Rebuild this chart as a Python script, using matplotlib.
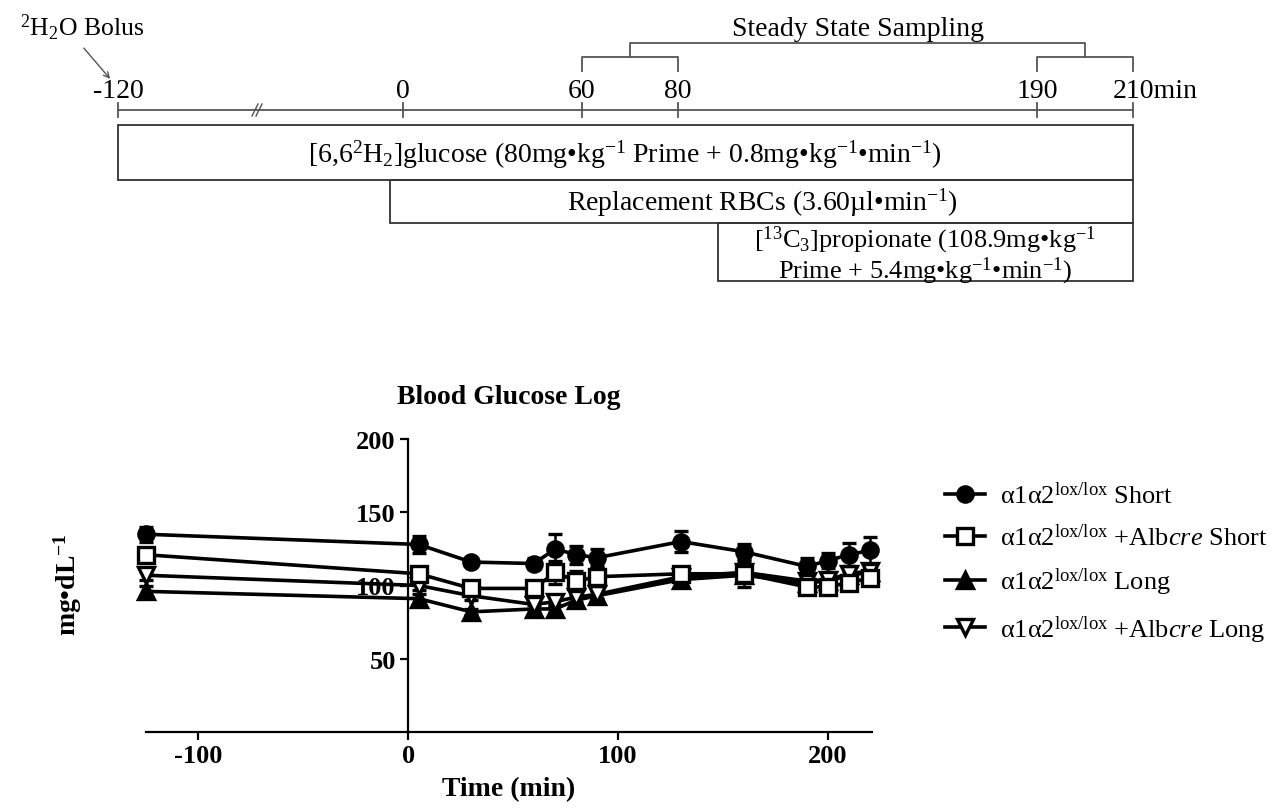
import numpy as np
import matplotlib.pyplot as plt
from matplotlib.lines import Line2D
from matplotlib.patches import Rectangle

plt.rcParams['font.family'] = ['Liberation Serif', 'DejaVu Serif']
plt.rcParams['mathtext.fontset'] = 'custom'
plt.rcParams['mathtext.rm'] = 'Liberation Serif'
plt.rcParams['mathtext.it'] = 'Liberation Serif:italic'
plt.rcParams['mathtext.bf'] = 'Liberation Serif:bold'
plt.rcParams['mathtext.default'] = 'regular'
plt.rcParams['axes.unicode_minus'] = False

# blood glucose (mg/dL), mean and SEM per group
time = [-125, 5, 30, 60, 70, 80, 90, 130, 160, 190, 200, 210, 220]
short_ctrl = [135, 128, 116, 115, 125, 121, 119, 130, 123, 113, 117, 121, 124]
short_ctrl_sem = [5, 6, 1, 4, 10, 6, 6, 7, 5, 6, 5, 8, 9]
short_alb = [121, 108, 98, 98, 109, 103, 106, 108, 108, 99, 99, 102, 105]
short_alb_sem = [3, 3, 2, 2, 8, 7, 6, 3, 9, 3, 3, 4, 4]
long_ctrl = [96, 91, 82, 84, 84, 90, 93, 104, 107, 102, 103, 107, 109]
long_ctrl_sem = [4, 3, 2, 3, 3, 3, 3, 3, 3, 3, 3, 3, 3]
long_alb = [107, 100, 93, 87, 89, 92, 94, 106, 109, 103, 104, 108, 110]
long_alb_sem = [3, 3, 3, 3, 3, 3, 3, 3, 3, 3, 3, 3, 3]

lox = r'$\alpha$1$\alpha$2$^{\mathrm{lox/lox}}$'
labels = [lox + ' Short', lox + r' +Alb$\mathit{cre}$ Short',
          lox + ' Long', lox + r' +Alb$\mathit{cre}$ Long']

# protocol timeline (positions in pixels, schematic spacing)
tl_labels = ['-120', '0', '60', '80', '190', '210min']
tl_px = [118, 403, 582, 678, 1037, 1133]

W, H = 1274, 812
fig = plt.figure(figsize=(W / 100, H / 100), dpi=100)

# ---- protocol schematic ----
top = fig.add_axes([0, 0, 1, 1])
top.set_xlim(0, W)
top.set_ylim(H, 0)
top.axis('off')
gc = '#555555'
fs = 20

top.plot([tl_px[0], tl_px[-1]], [111, 111], color=gc, lw=1.3)
for px, lab in zip(tl_px, tl_labels):
    top.plot([px, px], [104, 118], color=gc, lw=1.3)
    if lab.endswith('min'):
        top.text(px - 20, 98, lab, ha='left', va='baseline', fontsize=fs)
    else:
        top.text(px, 98, lab, ha='center', va='baseline', fontsize=fs)
# axis break
for dx in (-3, 1):
    top.plot([255 + dx, 261 + dx], [117, 105], color=gc, lw=1)

top.text(20, 36, r'$^{2}$H$_{2}$O Bolus', ha='left', va='baseline', fontsize=18.5)
top.annotate('', xy=(112, 82), xytext=(82, 47),
             arrowprops=dict(arrowstyle='->', color=gc, lw=1))

# sampling brackets
for a, b in ((tl_px[2], tl_px[3]), (tl_px[4], tl_px[5])):
    top.plot([a, a, b, b], [72, 58, 58, 72], color=gc, lw=1.3)
ml = (tl_px[2] + tl_px[3]) / 2
mr = (tl_px[4] + tl_px[5]) / 2
top.plot([ml, ml, mr, mr], [58, 44, 44, 58], color=gc, lw=1.3)
top.text(858, 36, 'Steady State Sampling', ha='center', va='baseline', fontsize=fs)

# infusion boxes
boxes = [(118, 126, 181), (390, 181, 224), (718, 224, 282)]
for x0, y0, y1 in boxes:
    top.add_patch(Rectangle((x0, y0), 1133 - x0, y1 - y0, fill=False,
                            edgecolor='#333333', lw=1.3))
top.text(625, 155, r'[6,6$^{2}$H$_{2}$]glucose (80mg•kg$^{-1}$ Prime + 0.8mg•kg$^{-1}$•min$^{-1}$)',
         ha='center', va='center', fontsize=fs)
top.text(762, 203, r'Replacement RBCs (3.60µl•min$^{-1}$)',
         ha='center', va='center', fontsize=fs)
top.text(925, 256, '[$^{13}$C$_{3}$]propionate (108.9mg•kg$^{-1}$\n'
         'Prime + 5.4mg•kg$^{-1}$•min$^{-1}$)',
         ha='center', va='center', multialignment='center', fontsize=19,
         linespacing=1.0)

# ---- blood glucose chart ----
ax = fig.add_axes([146 / W, (H - 733) / H, (872 - 146) / W, (733 - 440) / H])
ax.set_xlim(-125, 221)
ax.set_ylim(0, 200)

series = [
    (long_ctrl, long_ctrl_sem, '^', 'black', 2),
    (long_alb, long_alb_sem, 'v', 'white', 3),
    (short_ctrl, short_ctrl_sem, 'o', 'black', 4),
    (short_alb, short_alb_sem, 's', 'white', 5),
]
for y, e, m, fc, z in series:
    ax.errorbar(time, y, yerr=e, color='black', lw=2.6, marker=m, ms=11,
                mfc=fc, mec='black', mew=2.4, capsize=5, capthick=1.8,
                elinewidth=1.8, zorder=z, clip_on=False)

for s in ('top', 'right'):
    ax.spines[s].set_visible(False)
ax.spines['left'].set_position(('data', 0))
ax.spines['left'].set_linewidth(1.6)
ax.spines['bottom'].set_linewidth(1.6)
ax.set_yticks([50, 100, 150, 200])
ax.set_xticks([-100, 0, 100, 200])
ax.tick_params(direction='out', length=6, width=1.6, labelsize=19, pad=3)
for t in ax.get_xticklabels() + ax.get_yticklabels():
    t.set_fontweight('bold')

ax.set_title('Blood Glucose Log', fontsize=20, fontweight='bold', pad=26)
ax.set_xlabel('Time (min)', fontsize=20, fontweight='bold', labelpad=6)
fig.text(68 / W, 1 - 585 / H, r'mg•dL$^{-1}$', rotation=90, fontsize=20,
         fontweight='bold', ha='center', va='center')

handles = [
    Line2D([], [], color='black', lw=2.6, marker='o', ms=11, mfc='black', mew=2.4),
    Line2D([], [], color='black', lw=2.6, marker='s', ms=11, mfc='white', mew=2.4),
    Line2D([], [], color='black', lw=2.6, marker='^', ms=11, mfc='black', mew=2.4),
    Line2D([], [], color='black', lw=2.6, marker='v', ms=11, mfc='white', mew=2.4),
]
fig.legend(handles, labels, loc='center left', bbox_to_anchor=(945 / W, 1 - 564 / H),
           frameon=False, fontsize=19, handlelength=1.5, handletextpad=0.6,
           labelspacing=0.6, borderpad=0, borderaxespad=0)

fig.savefig('out.png', dpi=100)
plt.close(fig)
